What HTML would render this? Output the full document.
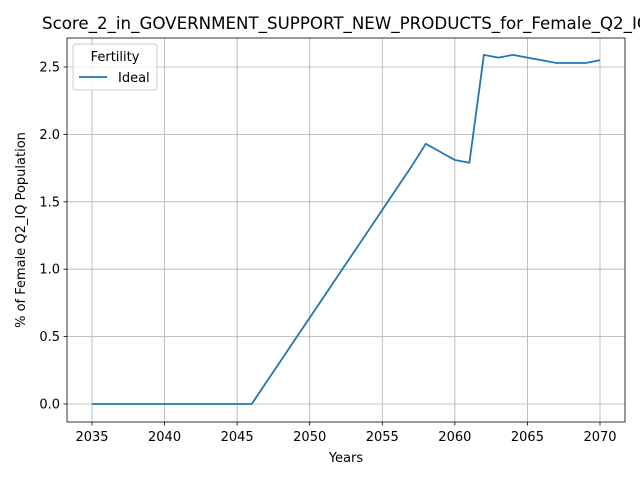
<!DOCTYPE html>
<html><head><meta charset="utf-8"><style>
body{margin:0;background:#fff;font-family:"DejaVu Sans","Liberation Sans",sans-serif;overflow:hidden;}
</style></head><body>
<svg width="640" height="480" xmlns="http://www.w3.org/2000/svg" style="font-family:'DejaVu Sans','Liberation Sans',sans-serif">
<g id="grid"></g>
<g id="ticks"></g>
<path id="line" fill="none" stroke="#1f77b4" stroke-width="1.8"/>
<rect x="67" y="38" width="558" height="384" fill="none" stroke="#000" stroke-width="0.8"/>
<text x="42" y="29" font-size="16.5" textLength="608" lengthAdjust="spacingAndGlyphs">Score_2_in_GOVERNMENT_SUPPORT_NEW_PRODUCTS_for_Female_Q2_IQ</text>
<text x="346" y="462" font-size="13" text-anchor="middle">Years</text>
<text transform="translate(25,230) rotate(-90)" font-size="13" text-anchor="middle">% of Female Q2_IQ Population</text>
<g>
<rect x="73" y="44" width="84" height="46" rx="3" fill="#fff" fill-opacity="0.8" stroke="#ccc"/>
<text x="115" y="61" font-size="13" text-anchor="middle">Fertility</text>
<line x1="79" y1="77" x2="107" y2="77" stroke="#1f77b4" stroke-width="1.8"/>
<text x="118" y="82" font-size="13">Ideal</text>
</g>
</svg>
<script>
const years=[2035,2036,2037,2038,2039,2040,2041,2042,2043,2044,2045,2046,2047,2048,2049,2050,2051,2052,2053,2054,2055,2056,2057,2058,2059,2060,2061,2062,2063,2064,2065,2066,2067,2068,2069,2070];
const values=[0,0,0,0,0,0,0,0,0,0,0,0,0.16,0.32,0.48,0.64,0.80,0.96,1.12,1.28,1.44,1.60,1.76,1.93,1.87,1.81,1.79,2.59,2.57,2.59,2.57,2.55,2.53,2.53,2.53,2.55];
const xTicks=[2035,2040,2045,2050,2055,2060,2065,2070];
const yTicks=[0,0.5,1.0,1.5,2.0,2.5];
const X=v=>92+(v-2035)*(508/35);
const Y=v=>404-v*134.8;
const ns="http://www.w3.org/2000/svg";
const g=document.getElementById('grid'),t=document.getElementById('ticks');
function mk(tag,attrs,parent){const e=document.createElementNS(ns,tag);for(const k in attrs)e.setAttribute(k,attrs[k]);parent.appendChild(e);return e;}
xTicks.forEach(v=>{
 const l=mk('line',{x1:X(v),x2:X(v),y1:38,y2:422,stroke:'#b0b0b0','stroke-width':0.8},g);
 
 
 mk('line',{x1:X(v),x2:X(v),y1:422,y2:425.5,stroke:'#000','stroke-width':0.8},t);
 const s=mk('text',{x:X(v),y:441,'font-size':13,'text-anchor':'middle'},t);s.textContent=v;
 
 
});
yTicks.forEach(v=>{
 const l=mk('line',{x1:67,x2:625,y1:Y(v),y2:Y(v),stroke:'#b0b0b0','stroke-width':0.8},g);
 
 
 mk('line',{x1:63.5,x2:67,y1:Y(v),y2:Y(v),stroke:'#000','stroke-width':0.8},t);
 const s=mk('text',{x:60,y:Y(v)+4.5,'font-size':13,'text-anchor':'end'},t);s.textContent=v.toFixed(1);
 
 
});
document.getElementById('line').setAttribute('d',years.map((y,i)=>(i?'L':'M')+X(y).toFixed(1)+','+Y(values[i]).toFixed(1)).join(''));
</script>
</body></html>
